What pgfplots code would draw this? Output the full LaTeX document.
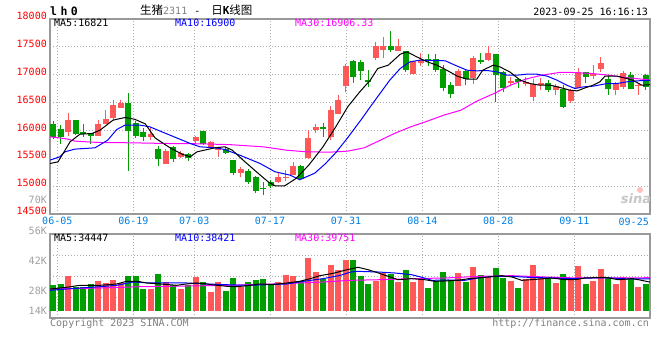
\documentclass[border=0pt]{standalone}
\usepackage{pgfplots}
\pgfplotsset{compat=1.18}
\usepackage{pgfplotstable}
\usepackage{fontspec}
\setmainfont{DejaVu Sans}
\newfontfamily\mono{DejaVu Sans Mono}
\newfontfamily\monospaced[LetterSpace=30]{DejaVu Sans Mono}
\newfontfamily\cjk{Noto Sans CJK SC}
\newfontfamily\sinaf{DejaVu Sans}
\newcommand\m{\mono\fontsize{10bp}{12bp}\selectfont}
\definecolor{cred}{RGB}{255,88,88}
\definecolor{cgreen}{RGB}{0,158,0}
\definecolor{cframe}{RGB}{153,153,153}
\definecolor{cgrid}{RGB}{175,175,175}
\definecolor{cdate}{RGB}{0,128,230}
\definecolor{cpink}{RGB}{255,0,255}
\definecolor{clab}{RGB}{160,160,160}
\definecolor{ccopy}{RGB}{128,128,128}

% i open high low close volume(K)
\pgfplotstableread{
i O H L C V
2 15965 16305 15905 16185 42.2
6 15905 16185 15900 16113 36.3
7 16113 16365 16110 16200 33.8
8 16215 16545 16185 16455 37.0
9 16405 16555 16400 16485 33.0
13 15885 16035 15825 15935 25.8
15 15395 15675 15390 15635 34.6
17 15527 15628 15497 15586 26.2
19 15815 15905 15760 15885 40.7
21 15706 15808 15688 15784 23.0
22 15646 15706 15526 15694 35.0
25 15240 15347 15156 15305 28.2
30 15066 15257 15060 15156 34.6
31 15138 15287 15096 15168 43.1
32 15198 15437 15195 15360 42.2
34 15497 16005 15495 15868 63.6
35 16005 16124 15946 16053 47.1
37 15885 16442 15826 16364 55.1
38 16292 16633 16290 16543 49.1
39 16800 17189 16681 17159 61.2
43 17303 17590 17273 17512 36.3
44 17452 17680 17303 17512 45.4
46 17428 17638 17425 17512 34.6
48 17010 17245 17005 17243 34.6
49 17219 17392 17159 17261 39.4
54 16800 17099 16795 17069 45.4
56 16944 17339 16842 17303 52.7
58 17261 17512 17255 17392 40.7
61 16854 16962 16794 16884 36.3
63 16830 16962 16794 16872 38.6
64 16603 16920 16525 16842 55.1
65 16812 16944 16722 16860 39.4
67 16722 16842 16633 16800 33.4
69 16525 16740 16501 16722 37.4
70 16764 17129 16760 17040 53.9
72 16974 17171 16932 17004 35.8
73 17099 17321 17051 17213 50.3
75 16722 16872 16633 16830 32.2
76 16782 17063 16740 17033 40.7
78 16800 16842 16633 16818 28.6
}\redk

\pgfplotstableread{
i O H L C V
0 16110 16165 15845 15885 30.6
1 16020 16095 15765 15880 32.2
3 16185 16195 15925 15935 28.2
4 15975 16113 15885 15935 28.2
5 15957 15960 15750 15905 32.2
10 16495 16665 15275 15995 42.2
11 16125 16165 15865 15895 42.2
12 15975 16035 15810 15885 26.6
14 15660 15720 15365 15480 44.7
16 15695 15720 15435 15485 31.0
18 15568 15586 15455 15509 31.0
20 15990 15995 15745 15748 34.6
23 15670 15700 15570 15590 24.2
24 15467 15470 15198 15240 39.4
26 15275 15305 15036 15078 35.0
27 15168 15180 14880 14920 37.0
28 14971 15078 14839 14950 38.2
29 15078 15108 14958 15006 31.0
33 15360 15377 15108 15126 35.8
36 16053 16142 15886 16030 38.6
40 17243 17273 16854 16962 61.2
41 17225 17261 16902 17069 41.8
42 16902 17081 16782 16872 32.2
45 17512 17781 17410 17452 44.3
47 17422 17425 17040 17093 49.1
50 17285 17380 17153 17261 27.4
51 17285 17380 17040 17093 36.3
52 17111 17171 16704 16764 46.7
53 16812 16872 16585 16651 37.0
55 17069 17099 16824 16920 34.6
57 17261 17398 17201 17231 43.1
59 17368 17370 16513 16992 51.5
60 17040 17063 16692 16770 39.4
62 16920 16932 16764 16872 27.4
66 16860 16902 16681 16722 39.4
68 16740 16812 16406 16424 44.3
71 17040 17051 16854 16962 32.2
74 16920 16992 16633 16740 39.4
77 16992 17051 16740 16752 38.2
79 16992 17010 16723 16771 32.2
}\greenk

\pgfplotsset{
  sinaaxis/.style={
    scale only axis, width=600bp,
    xmin=-0.4, xmax=79.6,
    scaled ticks=false,
    axis line style={draw=cframe, line width=1.6bp},
    xtick={0.573,10.71,18.84,28.93,39.07,49.24,59.37,69.51},
    grid=major,
    major grid style={draw=cgrid, line width=0.9bp, dash pattern=on 1bp off 2bp},
    tick style={draw=none}, major tick length=0pt,
  },
  wick/.style={draw=none, mark=none, forget plot,
    error bars/.cd, y dir=plus, y explicit, error mark=none,
    error bar style={draw=#1, line width=1bp, line cap=butt}},
  body/.style={draw=none, mark=none, forget plot,
    error bars/.cd, y dir=plus, y explicit, error mark=none,
    error bar style={draw=#1, line width=6bp, line cap=butt}},
  volbar/.style={draw=none, mark=none, forget plot,
    error bars/.cd, y dir=minus, y explicit, error mark=none,
    error bar style={draw=#1, line width=6bp, line cap=butt}},
}

\begin{document}
\begin{tikzpicture}
\fill[white] (0,0) rectangle (660bp,-360bp);
\useasboundingbox (0,0) rectangle (660bp,-360bp);

% ---------------- price panel ----------------
\begin{axis}[sinaaxis,
  at={(50bp,-19bp)}, anchor=north west, height=195bp,
  ymin=14500, ymax=18000,
  ytick={14500,15000,15500,16000,16500,17000,17500,18000},
  yticklabels={14500,15000,15500,16000,16500,17000,17500,18000},
  yticklabel style={font=\m, text=red, anchor=base east, inner sep=0pt, xshift=-3bp, yshift=-0.7bp},
  xticklabels={06-05,06-19,07-03,07-17,07-31,08-14,08-28,09-11},
  xticklabel style={font=\m, text=cdate, anchor=base, inner sep=0pt, yshift=-11bp},
]
\addplot[wick=cred] table[x=i, y=L, y error plus expr=\thisrow{H}-\thisrow{L}] {\redk};
\addplot[wick=cgreen] table[x=i, y=L, y error plus expr=\thisrow{H}-\thisrow{L}] {\greenk};
\addplot[body=cred] table[x=i, y=O, y error plus expr=\thisrow{C}-\thisrow{O}] {\redk};
\addplot[body=cgreen] table[x=i, y=C, y error plus expr=\thisrow{O}-\thisrow{C}] {\greenk};

% MA30
\addplot[cpink, line width=1bp, mark=none] coordinates {
(-0.4,15885) (0.67,15870) (2,15843) (2.9,15808) (6,15784) (10.4,15778) (14.9,15766)
(19.6,15760) (23.6,15745) (28,15706) (31.1,15646) (33.7,15616) (36.9,15610) (39.3,15628)
(41.5,15688) (43.2,15796) (45.5,15945) (47.7,16065) (49.9,16166) (52.1,16274) (54.4,16364)
(56.5,16525) (59.1,16681) (60.8,16800) (63,16920) (65.2,16992) (67.5,17040) (69.2,17040)
(71.9,17021) (74.1,16992) (76.3,16950) (78.5,16920) (79.6,16906)};
% MA10
\addplot[blue, line width=1bp, mark=none] coordinates {
(-0.4,15467) (0.9,15526) (1.6,15616) (2.9,15664) (5.6,15688) (7.3,15826) (8.5,16017)
(9.6,16095) (11.6,16095) (12.9,16065) (15.6,15915) (18.3,15766) (19.6,15706) (21.6,15688)
(22.9,15658) (24.9,15556) (27.6,15407) (29.6,15258) (31.6,15198) (32.9,15115) (34.9,15233)
(36.3,15400) (37.7,15600) (39.3,15870) (41.2,16214) (42.3,16423) (43.6,16663) (44.9,16902)
(46.3,17112) (47.6,17231) (48.9,17261) (52.3,17250) (53.6,17171) (55.2,17081) (56.5,17070)
(57.9,17075) (59.2,17051) (60.5,16992) (61.9,16992) (63.2,17010) (64.5,17010) (65.9,16974)
(67.2,16902) (68.5,16812) (69.6,16752) (70.7,16782) (72,16794) (73.9,16842) (75.2,16842)
(76.5,16872) (77.9,16890) (79.6,16900)};
% MA5
\addplot[black, line width=1bp, mark=none] coordinates {
(-0.4,15407) (0.67,15436) (2.27,15795) (3.6,15933) (5.2,15945) (6.27,16005) (8.0,16184)
(9.6,16232) (10.9,16200) (12.3,16118) (13.6,15867) (15.6,15688) (17.3,15568) (18.3,15526)
(19.2,15616) (21.6,15688) (22.9,15706) (23.9,15646) (25.6,15436) (27.9,15167) (28.7,15077)
(29.6,15006) (30.9,15006) (32.4,15138) (34.1,15377) (34.9,15515) (36,15706) (37.7,16065)
(39.3,16424) (40.9,16692) (42.3,16902) (43.3,17112) (44.7,17171) (46.3,17368) (47.2,17410)
(48.5,17321) (49.9,17231) (51.2,17171) (52.5,17081) (53.9,16974) (55.2,16920) (56.5,16920)
(57.3,17081) (58.7,17171) (59.6,17140) (60.9,17051) (62.3,16902) (63.6,16842) (64.9,16812)
(66.3,16812) (67.6,16771) (68.9,16723) (69.9,16710) (70.7,16752) (72,16812) (72.9,16872)
(73.6,16974) (75.2,16974) (76.5,16932) (77.3,16902) (78.5,16812) (79.6,16821)};
\end{axis}

% ---------------- volume panel ----------------
\begin{axis}[sinaaxis,
  at={(50bp,-234bp)}, anchor=north west, height=84bp,
  ymin=-8.8, ymax=92.4,
  ytick={16.5,41.8,67.1}, yticklabels={}, xticklabels={},
]
\addplot[volbar=cred] table[x=i, y=V, y error minus expr=\thisrow{V}] {\redk};
\addplot[volbar=cgreen] table[x=i, y=V, y error minus expr=\thisrow{V}] {\greenk};
% MA30
\addplot[cpink, line width=1bp, mark=none] coordinates {
(-0.4,26.1) (6.3,27.3) (11.6,28.9) (16,29.5) (20.5,30.1) (24.9,31.0) (29.4,32.2) (32.9,33.4)
(36,34.6) (39.6,36.6) (43.4,37.3) (47.8,38.6) (52.3,39.4) (56.7,41.4) (61.2,42.2) (65.6,40.6)
(70,39.4) (74.5,39.4) (79.6,39.75)};
% MA10
\addplot[blue, line width=1bp, mark=none] coordinates {
(-0.4,24.6) (1.8,26.1) (3.6,27.3) (6.3,28.9) (8.5,30.6) (10.7,34.6) (12.9,33.4) (17.8,33.4)
(20.5,32.2) (23.2,31.3) (25.8,30.6) (28.5,31.3) (31.2,32.2) (33.4,35.4) (36,38.6) (38.3,42.6)
(39.6,46.3) (40.3,47.5) (43.4,46.6) (45.6,45.4) (47.8,43.4) (49.2,40.2) (50.5,36.6) (52.7,37.0)
(54.9,36.6) (56.7,39.4) (58.9,41.4) (61.2,41.4) (63.4,40.2) (66.5,39.4) (69.2,38.6) (71.8,39.4)
(74.5,39.4) (76.7,38.2) (79.6,38.4)};
% MA5
\addplot[black, line width=1bp, mark=none] coordinates {
(-0.4,26.1) (1.8,28.2) (3.6,30.6) (6.3,30.6) (8.5,32.2) (9.8,35.4) (11.2,35.4) (12.5,33.4)
(15.2,31.5) (16.5,30.6) (17.8,32.2) (19.2,33.4) (20.5,32.2) (21.8,30.6) (23.2,29.4) (24.5,29.0)
(25.8,30.0) (27.6,32.2) (29.4,31.5) (31.2,33.4) (32.9,35.4) (34.3,38.6) (35.6,42.2) (37.4,45.1)
(38.9,48.7) (40.7,52.3) (42,49.4) (43.4,45.4) (44.7,41.4) (46,37.3) (47.8,38.6) (49.6,37.3)
(50.9,35.4) (52.7,36.0) (54,36.6) (55.4,38.6) (57.6,40.2) (59.8,42.2) (61.2,40.6) (62.5,36.6)
(64.7,38.0) (66.5,39.4) (68.3,37.3) (69.6,37.3) (70.9,39.4) (73.6,40.2) (75.4,37.3) (77.2,38.6)
(78.1,37.3) (79.6,34.4)};
\end{axis}

% ---------------- texts ----------------
\node[anchor=base west, inner sep=0pt] at (50bp,-15bp)
  {\monospaced\bfseries\fontsize{11.5bp}{11.5bp}\selectfont lh0};
\node[anchor=base west, inner sep=0pt] at (140bp,-14.5bp)
  {{\cjk\fontsize{11.5bp}{12bp}\selectfont 生猪}{\m\color{ccopy}2311}\kern7bp{\m -}\kern11bp{\cjk\fontsize{11.5bp}{12bp}\selectfont 日}{\mono\bfseries\fontsize{11bp}{12bp}\selectfont K}{\cjk\fontsize{11.5bp}{12bp}\selectfont 线图}};
\node[anchor=base east, inner sep=0pt] at (648bp,-15.5bp) {\m 2023-09-25 16:16:13};

\node[anchor=base west, inner sep=0pt] at (54bp,-26.7bp) {\m MA5:16821};
\node[anchor=base west, inner sep=0pt, text=blue] at (175bp,-26.7bp) {\m MA10:16900};
\node[anchor=base west, inner sep=0pt, text=cpink] at (295bp,-26.7bp) {\m MA30:16906.33};

\node[anchor=base west, inner sep=0pt] at (54bp,-241.5bp) {\m MA5:34447};
\node[anchor=base west, inner sep=0pt, text=blue] at (175bp,-241.5bp) {\m MA10:38421};
\node[anchor=base west, inner sep=0pt, text=cpink] at (295bp,-241.5bp) {\m MA30:39751};

\node[anchor=base east, inner sep=0pt, text=clab] at (47bp,-203.6bp) {\m 70K};
\node[anchor=base east, inner sep=0pt, text=clab] at (47bp,-234.5bp) {\m 56K};
\node[anchor=base east, inner sep=0pt, text=clab] at (47bp,-264.3bp) {\m 42K};
\node[anchor=base east, inner sep=0pt, text=clab] at (47bp,-294.3bp) {\m 28K};
\node[anchor=base east, inner sep=0pt, text=clab] at (47bp,-314.3bp) {\m 14K};

\node[anchor=base east, inner sep=0pt, text=cdate] at (649bp,-225bp) {\m 09-25};

\node[anchor=base west, inner sep=0pt, text=ccopy] at (50bp,-326.3bp) {\m Copyright 2023 SINA.COM};
\node[anchor=base east, inner sep=0pt, text=ccopy] at (649bp,-326.3bp) {\m http://finance.sina.com.cn};

\node[anchor=base, inner sep=0pt, text=black!22] at (636bp,-203bp) {\sinaf\bfseries\itshape\fontsize{13bp}{13bp}\selectfont sina};
\fill[red!25] (640bp,-190bp) circle (3bp);
\end{tikzpicture}
\end{document}
